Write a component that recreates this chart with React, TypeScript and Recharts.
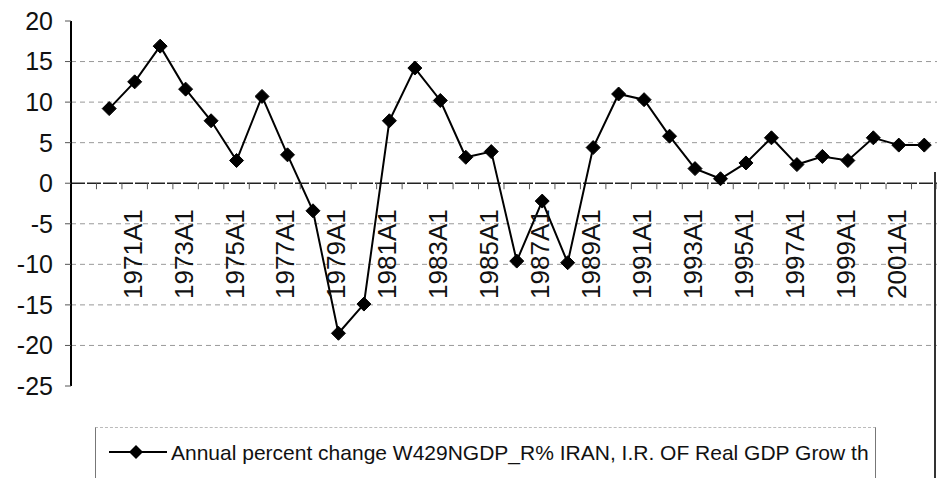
import React from 'react';
import { LineChart, Line, XAxis, YAxis, CartesianGrid, ReferenceLine, Legend } from 'recharts';

// ---- data ----
const years: string[] = [
  '1969A1', '1970A1', '1971A1', '1972A1', '1973A1', '1974A1', '1975A1', '1976A1', '1977A1',
  '1978A1', '1979A1', '1980A1', '1981A1', '1982A1', '1983A1', '1984A1', '1985A1',
  '1986A1', '1987A1', '1988A1', '1989A1', '1990A1', '1991A1', '1992A1', '1993A1',
  '1994A1', '1995A1', '1996A1', '1997A1', '1998A1', '1999A1', '2000A1', '2001A1', '2002A1',
];
const growth: (number | null)[] = [
  null, 9.2, 12.5, 16.9, 11.6, 7.7, 2.8, 10.7, 3.5,
  -3.4, -18.5, -14.9, 7.7, 14.2, 10.2, 3.2, 3.9,
  -9.6, -2.2, -9.8, 4.4, 11.0, 10.3, 5.8, 1.8,
  0.55, 2.5, 5.6, 2.3, 3.3, 2.8, 5.6, 4.7, 4.7,
];
const yTicks = [-25, -20, -15, -10, -5, 0, 5, 10, 15, 20];
const gridValues = [-20, -15, -10, -5, 5, 10, 15];
const seriesName = 'Annual percent change W429NGDP_R% IRAN, I.R. OF Real GDP Grow th';

const data = years.map((year, i) => ({ year, value: growth[i] }));

// ---- layout ----
const W = 937;
const H = 478;
const PLOT_TOP = 21;
const PLOT_BOTTOM = 386;
const Y_MIN = -25;
const Y_MAX = 20;
const ZERO_Y = PLOT_TOP + ((PLOT_BOTTOM - PLOT_TOP) * Y_MAX) / (Y_MAX - Y_MIN);
const FONT = '"Liberation Sans", Arial, Helvetica, sans-serif';

const CategoryTick = (props: any) => {
  const { x, payload, index } = props;
  const half = payload && typeof payload.offset === 'number' && payload.offset > 0 ? payload.offset : 12.7;
  const label = payload ? String(payload.value) : '';
  const idx = typeof index === 'number' ? index : payload && typeof payload.index === 'number' ? payload.index : 0;
  const tx = x - 2;
  const ty = ZERO_Y + 26;
  return (
    <g>
      <line x1={x + half} x2={x + half} y1={ZERO_Y} y2={ZERO_Y + 6} stroke="#555" strokeWidth={1} />
      {idx % 2 === 0 && idx > 0 ? (
        <text
          x={tx}
          y={ty}
          transform={`rotate(-90, ${tx}, ${ty})`}
          textAnchor="end"
          dominantBaseline="central"
          fontSize={26}
          fontFamily={FONT}
          fill="#111"
        >
          {label}
        </text>
      ) : null}
    </g>
  );
};

const Diamond = (props: any) => {
  const { cx, cy, index } = props;
  if (cx == null || cy == null || Number.isNaN(cy)) return <g key={`d-${index}`} />;
  const r = 7;
  return (
    <polygon
      key={`d-${index}`}
      points={`${cx},${cy - r} ${cx + r},${cy} ${cx},${cy + r} ${cx - r},${cy}`}
      fill="#000"
      stroke="#000"
    />
  );
};

const LegendBox = () => (
  <div
    style={{
      width: 781,
      height: 60,
      boxSizing: 'border-box',
      borderLeft: '1px solid #777',
      borderRight: '1px solid #777',
      borderTop: '1px dashed #bbb',
    }}
  >
    <svg width={779} height={58} style={{ display: 'block' }}>
      <line x1={13} x2={71} y1={24} y2={24} stroke="#000" strokeWidth={2} />
      <polygon points="40,17 47,24 40,31 33,24" fill="#000" />
      <text x={75} y={32} fontSize={21} fontFamily={FONT} fill="#111">
        {seriesName}
      </text>
    </svg>
  </div>
);

export default function App() {
  return (
    <div style={{ position: 'absolute', left: 0, top: 0, width: W, height: H, overflow: 'hidden', background: '#fff' }}>
      <LineChart
        width={W}
        height={H}
        data={data}
        margin={{ top: PLOT_TOP, right: 0, left: 0, bottom: 2 }}
      >
        <CartesianGrid
          vertical={false}
          horizontalValues={gridValues}
          stroke="#999"
          strokeDasharray="5 4"
        />
        <XAxis
          dataKey="year"
          scale="band"
          interval={0}
          axisLine={false}
          tickLine={false}
          height={30}
          tick={<CategoryTick />}
        />
        <YAxis
          domain={[Y_MIN, Y_MAX]}
          ticks={yTicks}
          interval={0}
          width={71}
          axisLine={{ stroke: '#000', strokeWidth: 2 }}
          tickLine={{ stroke: '#555' }}
          tickSize={6}
          tickMargin={12}
          tick={{ fontSize: 25, fontFamily: FONT, fill: '#111' }}
        />
        <ReferenceLine y={0} stroke="#222" strokeWidth={1.5} strokeDasharray="14 2" />
        <Line
          type="linear"
          dataKey="value"
          name={seriesName}
          stroke="#000"
          strokeWidth={2}
          dot={<Diamond />}
          activeDot={false}
          isAnimationActive={false}
        />
        <Legend
          verticalAlign="bottom"
          content={() => <LegendBox />}
          wrapperStyle={{ left: 95, top: 427, bottom: 'auto', width: 781, height: 60 }}
        />
      </LineChart>
      <div style={{ position: 'absolute', left: 934, top: 172, width: 2, height: 306, background: '#333' }} />
    </div>
  );
}
